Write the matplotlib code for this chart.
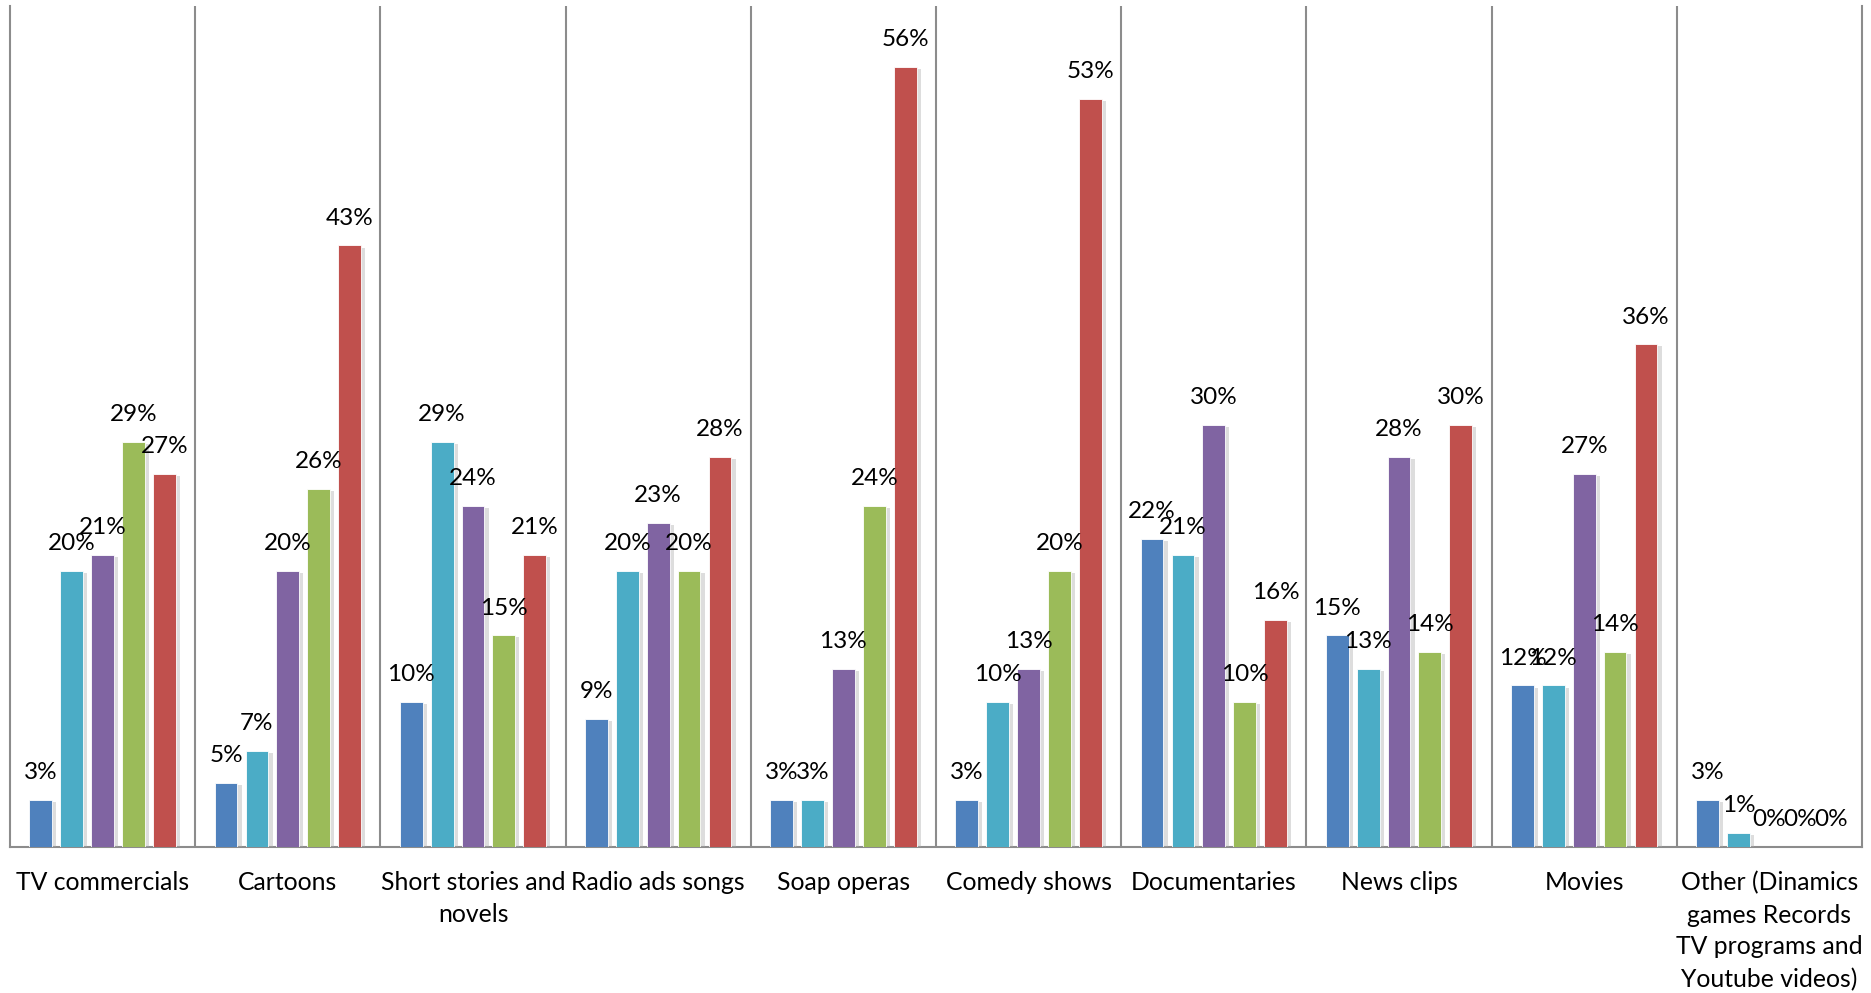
import matplotlib.pyplot as plt
import matplotlib.patheffects as pe
import numpy as np

plt.rcParams['font.family'] = ['Lato', 'DejaVu Sans']

categorias = ['TV commercials', 'Cartoons', 'Short stories and\nnovels', 'Radio ads songs',
              'Soap operas', 'Comedy shows', 'Documentaries', 'News clips', 'Movies',
              'Other (Dinamics\ngames Records\nTV programs and\nYoutube videos)']

# valores (%), um array por serie
serie1 = [3.4, 4.6, 10.4, 9.2, 3.4, 3.4, 22.1, 15.2, 11.6, 3.4]
serie2 = [19.8, 6.9, 29.1, 19.8, 3.4, 10.4, 21.0, 12.8, 11.6, 1.0]
serie3 = [21.0, 19.8, 24.5, 23.3, 12.8, 12.8, 30.3, 28.0, 26.8, 0.0]
serie4 = [29.1, 25.7, 15.2, 19.8, 24.5, 19.8, 10.4, 14.0, 14.0, 0.0]
serie5 = [26.8, 43.2, 21.0, 28.0, 56.0, 53.7, 16.3, 30.3, 36.1, 0.0]

rotulos1 = ['3%', '5%', '10%', '9%', '3%', '3%', '22%', '15%', '12%', '3%']
rotulos2 = ['20%', '7%', '29%', '20%', '3%', '10%', '21%', '13%', '12%', '1%']
rotulos3 = ['21%', '20%', '24%', '23%', '13%', '13%', '30%', '28%', '27%', '0%']
rotulos4 = ['29%', '26%', '15%', '20%', '24%', '20%', '10%', '14%', '14%', '0%']
rotulos5 = ['27%', '43%', '21%', '28%', '56%', '53%', '16%', '30%', '36%', '0%']

cores = ['#4F81BD', '#4BACC6', '#8064A2', '#9BBB59', '#C0504D']

series = [serie1, serie2, serie3, serie4, serie5]
rotulos = [rotulos1, rotulos2, rotulos3, rotulos4, rotulos5]

fig = plt.figure(figsize=(18.71, 9.93), dpi=100)
ax = fig.add_axes([10 / 1871, 146 / 993, 1852 / 1871, 841 / 993])

x = np.arange(len(categorias))
slot = 1 / 6
largura = slot * 0.74
sombra = [pe.SimplePatchShadow(offset=(3, -1.5), shadow_rgbFace='#aaaaaa', alpha=0.4), pe.Normal()]

for i, (vals, labs, cor) in enumerate(zip(series, rotulos, cores)):
    pos = x + (i - 2) * slot
    barras = ax.bar(pos, vals, width=largura, color=cor, edgecolor='white', linewidth=0.6, zorder=3)
    for b in barras:
        b.set_path_effects(sombra)
    for p, v, t in zip(pos, vals, labs):
        ax.annotate(t, (p, v), xytext=(0, 15), textcoords='offset points',
                    ha='center', va='baseline', fontsize=17.5, color='black', zorder=5)

ax.set_xlim(-0.5, len(categorias) - 0.5)
ax.set_ylim(0, 60.4)

# linhas verticais entre categorias
for k in range(1, len(categorias)):
    ax.axvline(k - 0.5, color='#8c8c8c', linewidth=1.5, zorder=1)

for lado in ['left', 'bottom', 'right']:
    ax.spines[lado].set_color('#8c8c8c')
    ax.spines[lado].set_linewidth(1.5)
ax.spines['top'].set_visible(False)

ax.set_yticks([])
ax.set_xticks(x)
ax.set_xticklabels(categorias, fontsize=17.8, linespacing=1.47, va='top')
ax.tick_params(axis='x', length=0, pad=17.5)

plt.savefig('out.png', dpi=100)
